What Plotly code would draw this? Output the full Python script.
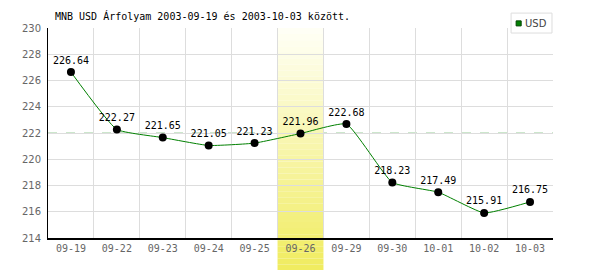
import plotly.graph_objects as go

dates = ["09-19", "09-22", "09-23", "09-24", "09-25", "09-26",
         "09-29", "09-30", "10-01", "10-02", "10-03"]
usd = [226.64, 222.27, 221.65, 221.05, 221.23, 221.96,
       222.68, 218.23, 217.49, 215.91, 216.75]
highlight = "09-26"
ref_level = 222
title = "MNB USD Árfolyam 2003-09-19 és 2003-10-03 között."
series_name = "USD"

MONO = "DejaVu Sans Mono"

fig = go.Figure()
fig.add_trace(go.Scatter(
    x=dates, y=usd, mode="lines+markers+text",
    text=[f"{v:.2f}" for v in usd], textposition="top center",
    textfont=dict(family=MONO, size=10, color="#000"),
    line=dict(color="#008000", width=1, shape="spline", smoothing=0.4),
    marker=dict(color="#000", size=8),
    showlegend=False, cliponaxis=False,
))

shapes = []
# reference dashed line
shapes.append(dict(type="line", xref="paper", x0=0, x1=1, yref="y",
                   y0=ref_level, y1=ref_level, layer="between",
                   line=dict(color="#99cc99", width=1, dash="dash")))
# highlighted column with vertical gradient
hi = dates.index(highlight)
N = 40
top, bottom = 1.0, -0.155
c0 = (255, 255, 245)
c1 = (240, 236, 96)
for i in range(N):
    t = i / (N - 1)
    col = tuple(int(round(c0[k] + (c1[k] - c0[k]) * t)) for k in range(3))
    ya = top + (bottom - top) * i / N
    yb = top + (bottom - top) * (i + 1) / N
    shapes.append(dict(type="rect", xref="x", x0=hi - 0.5, x1=hi + 0.5,
                       yref="paper", y0=ya, y1=yb, layer="between",
                       line=dict(width=0),
                       fillcolor="rgb(%d,%d,%d)" % col))
# legend box
shapes.append(dict(type="rect", xref="paper", yref="paper",
                   x0=0.917, x1=0.998, y0=0.976, y1=1.071,
                   line=dict(color="#dddddd", width=1), fillcolor="white",
                   layer="above"))
shapes.append(dict(type="rect", xref="paper", yref="paper",
                   x0=0.927, x1=0.937, y0=1.010, y1=1.034,
                   line=dict(color="#004400", width=1), fillcolor="#008000",
                   layer="above"))
fig.update_layout(shapes=shapes)

fig.add_annotation(xref="paper", yref="paper", x=0.941, y=1.022,
                   text=series_name, showarrow=False, xanchor="left",
                   yanchor="middle",
                   font=dict(family="DejaVu Sans", size=10, color="#444"))
fig.add_annotation(xref="paper", yref="paper", x=0.01, y=1.057,
                   text=title, showarrow=False, xanchor="left",
                   yanchor="middle",
                   font=dict(family=MONO, size=10, color="#000"))

fig.update_layout(
    width=600, height=270,
    margin=dict(l=48, r=47, t=28, b=32),
    paper_bgcolor="white", plot_bgcolor="white",
    xaxis=dict(type="category", tickson="boundaries", ticks="",
               showgrid=True, gridcolor="#dddddd", gridwidth=1,
               showline=True, linecolor="#000", linewidth=2,
               tickfont=dict(family=MONO, size=10, color="#666"),
               range=[-0.5, len(dates) - 0.5], zeroline=False),
    yaxis=dict(range=[214, 230], dtick=2, tick0=214, ticks="",
               showgrid=True, gridcolor="#dddddd", gridwidth=1,
               showline=True, linecolor="#000", linewidth=1,
               tickfont=dict(family="DejaVu Sans", size=10, color="#666"),
               zeroline=False, ticklabelstandoff=4),
    showlegend=False,
)

fig.write_html("out.html")
